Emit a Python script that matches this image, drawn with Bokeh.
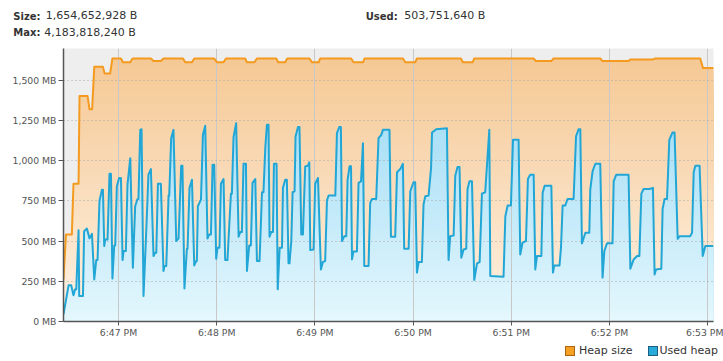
import numpy as np
from datetime import datetime
from bokeh.plotting import figure
from bokeh.layouts import column
from bokeh.models import FixedTicker, Range1d, Div
from bokeh.embed import file_html
from bokeh.resources import INLINE

# ---- data (seconds after 18:46:00, values in MB) ----
t_heap = [26.4, 27.9, 31.5, 32.5, 35.6, 36.2, 41.1, 42.3, 43.9, 45.2,
          50.5, 51.5, 54.9, 56.3, 61.5, 62.7, 67.2, 68.6, 79.8, 81.4,
          85.9, 87.5, 99.4, 100.8, 104.9, 106.3, 118.5, 120.2, 124.2, 125.7,
          137.4, 138.5, 143.1, 144.6, 156.4, 157.6, 161.9, 163.1, 176.7, 178.2,
          182.3, 183.3, 202.2, 203.6, 209.4, 210.4, 233.8, 235.2, 241.3, 242.4,
          269.2, 270.5, 276.4, 277.4, 313.7, 315.1, 324.5, 325.9, 354.4, 355.8,
          371.7, 372.8, 386.6, 388.0, 415.5, 417.2, 423.7]
heap_mb = [262, 541, 541, 857, 857, 1403, 1403, 1320, 1320, 1584,
           1584, 1543, 1543, 1636, 1636, 1612, 1612, 1636, 1636, 1620,
           1620, 1636, 1636, 1612, 1612, 1636, 1636, 1612, 1612, 1636,
           1636, 1612, 1612, 1636, 1636, 1612, 1612, 1636, 1636, 1612,
           1612, 1636, 1636, 1612, 1612, 1636, 1636, 1612, 1612, 1636,
           1636, 1612, 1612, 1636, 1636, 1620, 1620, 1636, 1636, 1620,
           1620, 1630, 1630, 1636, 1636, 1576, 1576]

t_used = [26.4, 29.5, 31.1, 32.5, 33.5, 34.2, 35.6, 36.0, 38.3, 39.0,
          40.7, 42.3, 43.8, 45.2, 46.4, 47.2, 48.4, 49.9, 50.5, 51.3,
          51.9, 53.3, 54.5, 55.4, 56.3, 57.4, 58.0, 59.0, 60.4, 61.5,
          62.5, 63.1, 64.5, 65.5, 67.2, 68.8, 70.2, 71.6, 72.2, 73.3,
          74.1, 75.3, 76.8, 78.3, 79.8, 81.4, 82.4, 83.1, 84.1, 85.9,
          87.5, 88.1, 89.2, 90.6, 91.0, 92.2, 93.6, 95.3, 96.7, 98.3,
          99.1, 100.3, 101.8, 102.2, 103.4, 104.9, 106.3, 107.5, 107.9, 108.5,
          110.4, 111.6, 113.0, 114.4, 115.4, 116.5, 117.5, 118.5, 119.7, 120.5,
          121.7, 122.6, 124.2, 125.2, 126.6, 128.7, 129.3, 130.3, 131.9, 133.4,
          134.4, 135.4, 136.4, 137.9, 138.5, 139.9, 140.9, 141.9, 143.6, 144.6,
          146.2, 147.7, 148.6, 149.7, 150.7, 151.7, 152.3, 153.3, 154.4, 155.0,
          156.6, 157.3, 158.5, 159.9, 160.5, 161.9, 162.9, 163.9, 164.5, 165.6,
          166.4, 167.6, 168.2, 169.7, 170.6, 171.7, 172.7, 174.1, 175.8, 176.6,
          177.2, 179.2, 180.2, 181.9, 183.7, 184.9, 186.3, 187.4, 188.4, 192.5,
          193.5, 194.9, 195.9, 196.6, 198.0, 199.2, 200.0, 201.2, 202.1, 202.7,
          203.6, 205.7, 206.7, 208.2, 209.4, 210.2, 212.8, 213.8, 214.9, 217.5,
          218.9, 220.6, 221.6, 225.6, 226.5, 229.1, 230.2, 232.2, 233.8, 234.6,
          237.3, 238.3, 240.3, 241.3, 242.4, 243.4, 245.4, 246.4, 247.5, 249.5,
          251.0, 251.6, 254.2, 260.7, 261.7, 262.7, 264.8, 265.8, 267.2, 268.4,
          269.5, 270.9, 272.5, 273.3, 274.5, 276.0, 277.4, 279.1, 280.7, 282.1,
          284.1, 286.6, 287.2, 295.3, 296.4, 297.8, 299.8, 301.1, 304.5, 305.5,
          306.9, 309.0, 310.2, 311.6, 313.7, 314.7, 315.7, 318.4, 319.2, 320.4,
          324.5, 325.5, 326.3, 329.5, 330.4, 331.4, 333.0, 334.4, 338.1, 339.6,
          341.2, 342.2, 343.2, 345.3, 347.7, 348.3, 349.7, 351.4, 354.4, 355.8,
          356.9, 358.5, 361.9, 362.6, 364.2, 371.7, 372.8, 374.8, 376.9, 378.3,
          379.5, 380.9, 384.6, 386.6, 387.6, 388.5, 391.7, 392.5, 393.7, 395.2,
          396.6, 398.6, 399.8, 401.7, 402.9, 409.4, 410.5, 411.5, 412.5, 415.1,
          417.0, 418.6, 423.5]
used_mb = [45, 225, 225, 163, 200, 200, 568, 159, 159, 562,
           578, 517, 545, 262, 382, 382, 752, 820, 820, 469,
           510, 510, 919, 919, 267, 473, 473, 841, 893, 893,
           382, 438, 438, 851, 1016, 335, 717, 762, 762, 1192,
           1196, 159, 521, 913, 948, 407, 428, 428, 857, 857,
           314, 345, 345, 783, 783, 1140, 1192, 500, 517, 969,
           969, 205, 452, 452, 831, 882, 349, 376, 376, 717,
           758, 1161, 1217, 517, 541, 541, 975, 975, 390, 459,
           459, 857, 886, 382, 382, 795, 795, 1147, 1233, 527,
           556, 556, 981, 981, 314, 473, 473, 862, 886, 376,
           376, 804, 804, 1078, 1223, 1223, 527, 556, 556, 981,
           981, 200, 459, 459, 831, 882, 882, 362, 362, 500,
           804, 810, 1151, 1209, 1209, 541, 541, 965, 969, 990,
           444, 448, 857, 893, 324, 370, 376, 754, 783, 783,
           1172, 1209, 1209, 500, 531, 531, 882, 965, 965, 386,
           436, 436, 862, 872, 1109, 345, 345, 738, 762, 762,
           1140, 1161, 1192, 1192, 527, 527, 928, 948, 981, 452,
           452, 810, 866, 866, 304, 370, 370, 727, 779, 783,
           954, 1176, 1196, 1202, 382, 531, 535, 907, 961, 961,
           397, 448, 452, 824, 872, 872, 258, 362, 370, 795,
           804, 1192, 283, 279, 655, 721, 721, 1130, 1130, 417,
           490, 500, 886, 913, 913, 324, 407, 407, 800, 845,
           845, 304, 349, 349, 459, 721, 721, 762, 762, 1151,
           1196, 1196, 486, 552, 552, 820, 934, 981, 981, 273,
           438, 486, 486, 872, 913, 913, 328, 386, 407, 407,
           795, 824, 824, 831, 293, 324, 328, 700, 762, 762,
           1130, 1176, 1176, 514, 531, 531, 552, 928, 969, 969,
           407, 469, 469]

y_ticks = [0, 250, 500, 750, 1000, 1250, 1500]
y_tick_labels = ["0 MB", "250 MB", "500 MB", "750 MB", "1,000 MB", "1,250 MB", "1,500 MB"]
x_tick_minutes = [1, 2, 3, 4, 5, 6, 7]  # minutes after 18:46
x_tick_labels = ["6:47 PM", "6:48 PM", "6:49 PM", "6:50 PM", "6:51 PM", "6:52 PM", "6:53 PM"]

header_keys = ["Size:", "Max:", "Used:"]
header_values = ["1,654,652,928 B", "4,183,818,240 B", "503,751,640 B"]

series_names = ["Heap size", "Used heap"]
series_fill = ["#f5a023", "#27aad9"]
series_border = ["#a86410", "#1b5f7e"]
series_line = ["#f39a1f", "#21a6d6"]

# ---- helpers ----
BASE_MS = (datetime(2024, 1, 1, 18, 46, 0) - datetime(1970, 1, 1)).total_seconds() * 1000.0


def to_ms(secs):
    return BASE_MS + np.asarray(secs, dtype=float) * 1000.0


def with_crossings(x, y, levels):
    xs, ys = [x[0]], [y[0]]
    for i in range(1, len(x)):
        x0, y0, x1, y1 = x[i - 1], y[i - 1], x[i], y[i]
        if y1 != y0:
            lo, hi = min(y0, y1), max(y0, y1)
            cr = sorted([L for L in levels if lo < L < hi], reverse=(y1 < y0))
            for L in cr:
                f = (L - y0) / (y1 - y0)
                xs.append(x0 + f * (x1 - x0))
                ys.append(L)
        xs.append(x1)
        ys.append(y1)
    return np.array(xs), np.array(ys)


def lerp_color(c0, c1, f):
    a = [int(c0[i:i + 2], 16) for i in (1, 3, 5)]
    b = [int(c1[i:i + 2], 16) for i in (1, 3, 5)]
    r = [round(a[k] + (b[k] - a[k]) * f) for k in range(3)]
    return "#%02x%02x%02x" % tuple(r)


W = 723
FONT = "font-family:'DejaVu Sans';font-size:11px;line-height:12.8px;color:#333333;white-space:nowrap;"

# ---- header strip (HTML text) ----
key_pos = [(13.3, 10.0), (13.3, 26.6), (365.7, 10.0)]
val_pos = [(45.7, 10.0), (44.3, 26.6), (404.3, 10.0)]
spans = []
for (kx, ky), k in zip(key_pos, header_keys):
    spans.append('<span style="position:absolute;left:%.1fpx;top:%.1fpx;font-weight:bold;'
                 'font-size:10px;">%s</span>' % (kx, ky + 0.8, k))
for (vx, vy), v in zip(val_pos, header_values):
    spans.append('<span style="position:absolute;left:%.1fpx;top:%.1fpx;">%s</span>' % (vx, vy, v))
header_html = '<div style="position:relative;width:%dpx;height:40px;%s">%s</div>' % (W, FONT, "".join(spans))
hdr = Div(text=header_html, width=W, height=40, margin=(0, 0, 0, 0))

# ---- legend strip (HTML) ----
sw_x = [565.0, 647.7]
lab_x = [579.0, 659.5]
items = []
for sx, lx, name, fc, bc in zip(sw_x, lab_x, series_names, series_fill, series_border):
    items.append('<span style="position:absolute;left:%.1fpx;top:6px;width:10px;height:10px;'
                 'box-sizing:border-box;background:%s;border:1px solid %s;"></span>' % (sx, fc, bc))
    items.append('<span style="position:absolute;left:%.1fpx;top:4.5px;">%s</span>' % (lx, name))
legend_html = '<div style="position:relative;width:%dpx;height:21px;%s">%s</div>' % (W, FONT, "".join(items))
leg = Div(text=legend_html, width=W, height=21, margin=(0, 0, 0, 0))

# ---- main chart ----
xh = to_ms(t_heap)
xu = to_ms(t_used)

p = figure(width=W, height=300, x_axis_type="datetime", output_backend="svg",
           toolbar_location=None, min_border_left=63, min_border_right=10,
           min_border_top=8, min_border_bottom=18,
           x_range=Range1d(xu[0], xu[-1] + 100), y_range=Range1d(0, 1698))
p.background_fill_color = "#eeeeee"
p.border_fill_color = "white"
p.outline_line_color = None


def gradient_area(x, y, top, c_bottom, c_top, n):
    levels = list(np.linspace(0, top, n + 1))
    xd, yd = with_crossings(list(x), list(y), levels[1:-1])
    for k in range(n, 0, -1):
        b = levels[k]
        mid = (levels[k - 1] + levels[k]) / 2.0
        col = lerp_color(c_bottom, c_top, mid / top)
        r = p.varea(x=xd, y1=0, y2=np.minimum(yd, b), fill_color=col)
        r.level = "image"


gradient_area(xh, heap_mb, 1640, "#fef2e4", "#f5c894", 40)
gradient_area(xu, used_mb, 1240, "#e4f7fd", "#a8dff6", 32)

p.line(xh, heap_mb, line_color=series_line[0], line_width=2, line_join="round")
p.line(xu, used_mb, line_color=series_line[1], line_width=2, line_join="round")

# axes
p.yaxis.ticker = FixedTicker(ticks=y_ticks)
p.yaxis.major_label_overrides = dict(zip(y_ticks, y_tick_labels))
xt = list(to_ms([m * 60 for m in x_tick_minutes]))
p.xaxis.ticker = FixedTicker(ticks=xt)
p.xaxis.major_label_overrides = dict(zip(xt, x_tick_labels))
for ax in (p.xaxis[0], p.yaxis[0]):
    ax.axis_line_color = "#555555"
    ax.axis_line_width = 1.5
    ax.major_tick_line_color = "#555555"
    ax.major_tick_in = 0
    ax.minor_tick_line_color = None
    ax.major_label_text_font = "DejaVu Sans"
    ax.major_label_text_font_size = "9.3px"
    ax.major_label_text_color = "#555555"
p.xaxis[0].major_tick_out = 4
p.xaxis[0].major_label_standoff = 1
p.yaxis[0].major_tick_out = 5
p.yaxis[0].major_label_standoff = 2

p.ygrid.grid_line_color = "#a8a8a8"
p.ygrid.grid_line_dash = "1 3"
p.xgrid.grid_line_color = "#c8c8c8"
p.xgrid.grid_line_width = 1

layout = column(hdr, p, leg, spacing=0)
open("out.html", "w").write(file_html(layout, INLINE))
